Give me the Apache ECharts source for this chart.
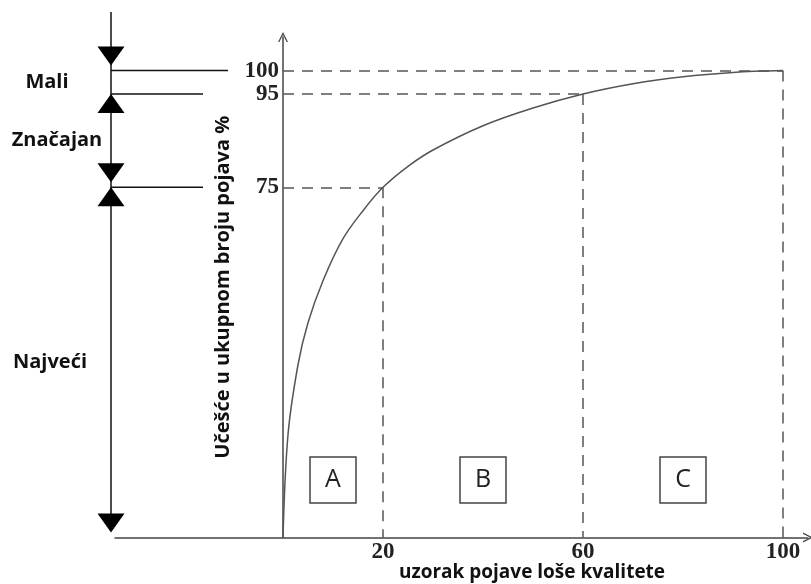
<!DOCTYPE html>
<html>
<head>
<meta charset="utf-8">
<script src="https://cdn.jsdelivr.net/npm/echarts@6/dist/echarts.min.js"></script>
<style>html,body{margin:0;padding:0;background:#fff;}#c{width:811px;height:584px;}</style>
</head>
<body>
<div id="c"></div>
<script>
// ---- data ----
const xTicks = [20, 60, 100];
const yTicks = [75, 95, 100];
const curveX = [0, 1, 3, 5, 8, 12, 16, 20, 25, 30, 40, 50, 60, 70, 80, 90, 100];
const curveY = [0, 22, 37, 46, 55, 64, 70, 75, 79.5, 83, 88.2, 92, 95, 97.2, 98.7, 99.6, 100];
const guideX = [20, 60, 100];
const guideY = [75, 95, 100];
const zoneNames = ['A', 'B', 'C'];
const zoneBounds = [0, 20, 60, 100];
const bracketLevels = [100, 95, 75, 0];
const bracketNames = ['Mali', 'Značajan', 'Najveći'];
const xName = 'uzorak pojave loše kvalitete';
const yName = 'Učešće u ukupnom broju pojava %';

// ---- build ----
const curveData = curveX.map((x, i) => [x, curveY[i]]);
const guideLines = [];
guideX.forEach((gx, i) => {
  guideLines.push([{ coord: [0, guideY[i]] }, { coord: [gx, guideY[i]] }]);
  guideLines.push([{ coord: [gx, guideY[i]] }, { coord: [gx, 0] }]);
});
const zoneData = zoneNames.map((n, i) => [(zoneBounds[i] + zoneBounds[i + 1]) / 2, 12.3, n]);

const chevron = 'path://M0,10 L5,0 L10,10 L8.6,10 L5,2.8 L1.4,10 Z';
const serifBold = { fontFamily: 'Liberation Serif', fontWeight: 'bold', fontSize: 23, color: '#222' };

const chart = echarts.init(document.getElementById('c'));
chart.setOption({
  animation: false,
  backgroundColor: '#fff',
  grid: { left: 115, right: 3, top: 37, bottom: 46.5, outerBoundsMode: 'none', containLabel: false },
  xAxis: {
    type: 'value', min: -33.6, max: 105,
    axisLine: { onZero: false, lineStyle: { color: '#444', width: 1.5 }, symbol: ['none', chevron], symbolSize: [10, 12] },
    axisTick: { show: false },
    splitLine: { show: false },
    axisLabel: Object.assign({ customValues: xTicks, margin: 3, formatter: v => String(v) }, serifBold),
    name: xName, nameLocation: 'middle', nameGap: 26, nameMoveOverlap: false,
    nameTextStyle: { fontFamily: 'Open Sans', fontWeight: 'bold', fontSize: 19, color: '#111', padding: [0, 0, 0, 141] }
  },
  yAxis: {
    type: 'value', min: 0, max: 107.2, offset: -168,
    axisLine: { onZero: false, lineStyle: { color: '#444', width: 1.5 }, symbol: ['none', chevron], symbolSize: [10, 12] },
    axisTick: { show: false },
    splitLine: { show: false },
    axisLabel: Object.assign({ customValues: yTicks, margin: 4, formatter: v => String(v) }, serifBold),
    name: yName, nameLocation: 'middle', nameGap: 50, nameRotate: 90, nameMoveOverlap: false,
    nameTextStyle: { fontFamily: 'Open Sans', fontWeight: 'bold', fontSize: 20, color: '#111' }
  },
  series: [
    {
      type: 'line', data: curveData, smooth: 0.35, showSymbol: false, silent: true,
      lineStyle: { color: '#555', width: 1.5 }, z: 3,
      markLine: {
        silent: true, symbol: ['none', 'none'], label: { show: false },
        lineStyle: { color: '#555', width: 1.5, type: [11, 8] },
        data: guideLines
      }
    },
    {
      type: 'scatter', data: zoneData, symbol: 'rect', symbolSize: 46, silent: true,
      itemStyle: { color: '#fff', borderColor: '#444', borderWidth: 1.5, opacity: 1 },
      label: { show: true, position: 'inside', formatter: p => p.value[2], fontFamily: 'Open Sans', fontSize: 25, color: '#222' },
      z: 4
    },
    {
      type: 'custom', data: [[0, 0]], silent: true, clip: false, z: 5,
      renderItem: function (params, api) {
        const Y = l => api.coord([0, l])[1];
        const bx = 111, tw = 13.5, th = 19;
        const kids = [];
        const yBottom = Y(bracketLevels[bracketLevels.length - 1]);
        kids.push({ type: 'line', shape: { x1: bx, y1: 12, x2: bx, y2: yBottom - 10 }, style: { stroke: '#111', lineWidth: 1.5 } });
        bracketLevels.slice(0, 3).forEach((l, i) => {
          kids.push({ type: 'line', shape: { x1: bx, y1: Y(l), x2: i === 0 ? 228 : 203, y2: Y(l) }, style: { stroke: '#111', lineWidth: 1.5 } });
        });
        const down = l => { const t = Y(l) - 5; return { type: 'polygon', shape: { points: [[bx - tw, t - th], [bx + tw, t - th], [bx, t]] }, style: { fill: '#000' } }; };
        const up = l => { const t = Y(l); return { type: 'polygon', shape: { points: [[bx - tw, t + th], [bx + tw, t + th], [bx, t]] }, style: { fill: '#000' } }; };
        kids.push(down(bracketLevels[0]));
        kids.push(up(bracketLevels[1]));
        kids.push(down(bracketLevels[2]));
        kids.push(up(bracketLevels[2]));
        kids.push(down(bracketLevels[3]));
        const labelX = [47, 57, 50];
        bracketNames.forEach((n, i) => {
          const my = (Y(bracketLevels[i]) + Y(bracketLevels[i + 1])) / 2;
          kids.push({ type: 'text', style: { text: n, x: labelX[i], y: my, align: 'center', verticalAlign: 'middle', font: 'bold 20px "Open Sans"', fill: '#111' } });
        });
        return { type: 'group', children: kids };
      }
    }
  ]
});
</script>
</body>
</html>
